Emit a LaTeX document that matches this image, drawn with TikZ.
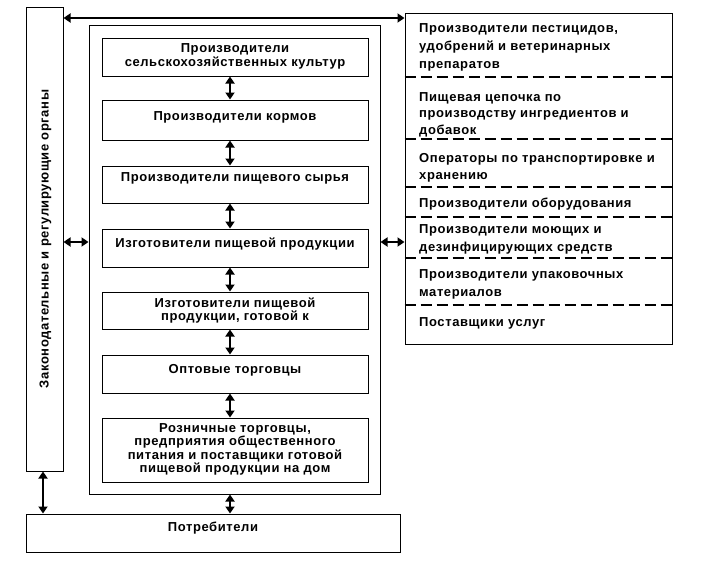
\documentclass[tikz,border=0pt]{standalone}
\usepackage{fontspec}
\setmainfont[LetterSpace=4.5]{Liberation Sans}
\usetikzlibrary{arrows.meta,fit,calc}
\begin{document}
\begin{tikzpicture}[x=1pt,y=-1pt,
  frame/.style={draw, line width=1pt, inner sep=0pt},
  txt/.style={font=\fontsize{13}{13.5}\selectfont\bfseries, align=center, inner sep=0pt},
  rtxt/.style={font=\fontsize{13}{18}\selectfont\bfseries, align=left, anchor=north west, inner sep=0pt},
  dbl/.style={line width=2.3pt, {Triangle[length=7pt,width=9pt]}-{Triangle[length=7pt,width=9pt]}},
  sepline/.style={line width=1.8pt, dash pattern=on 11pt off 5pt}]
\fill[white] (0,0) rectangle (703,562);
\useasboundingbox (0,0) rectangle (703,562);
% main frames
\node[frame, fit={(26,7)(63,471)}] (L) {};
\node[frame, fit={(89,25)(380,494)}] (O) {};
\node[frame, fit={(405,13)(672,344)}] (R) {};
\node[frame, fit={(26,514)(400,552)}] (P) {};
% inner boxes
\node[frame, fit={(102,38)(368,76)}] (b1) {};
\node[frame, fit={(102,100)(368,140)}] (b2) {};
\node[frame, fit={(102,166)(368,203)}] (b3) {};
\node[frame, fit={(102,229)(368,267)}] (b4) {};
\node[frame, fit={(102,292)(368,329)}] (b5) {};
\node[frame, fit={(102,355)(368,393)}] (b6) {};
\node[frame, fit={(102,418)(368,482)}] (b7) {};
% texts
\node[txt] (t1) at (235,56.5) {Производители\\сельскохозяйственных культур};
\node[txt] (t2) at (235,117) {Производители кормов};
\node[txt] (t3) at (235,178) {Производители пищевого сырья};
\node[txt] (t4) at (235,244) {Изготовители пищевой продукции};
\node[txt] (t5) at (235,310.5) {Изготовители пищевой\\продукции, готовой к};
\node[txt] (t6) at (235,370) {Оптовые торговцы};
\node[txt] (t7) at (235,449.5) {Розничные торговцы,\\предприятия общественного\\питания и поставщики готовой\\пищевой продукции на дом};
\node[txt] (tp) at (213,528) {Потребители};
\node[txt, rotate=90] (tl) at ([xshift=1pt]L.center) {Законодательные и регулирующие органы};
% right column
\node[rtxt] (r1) at (419,23) {Производители пестицидов,\\удобрений и ветеринарных\\препаратов};
\node[rtxt, font=\fontsize{13}{16.5}\selectfont\bfseries] (r2) at (419,92) {Пищевая цепочка по\\производству ингредиентов и\\добавок};
\node[rtxt, font=\fontsize{13}{17}\selectfont\bfseries] (r3) at (419,153) {Операторы по транспортировке и\\хранению};
\node[rtxt] (r4) at (419,198) {Производители оборудования};
\node[rtxt] (r5) at (419,224) {Производители моющих и\\дезинфицирующих средств};
\node[rtxt] (r6) at (419,269) {Производители упаковочных\\материалов};
\node[rtxt] (r7) at (419,317) {Поставщики услуг};
\foreach \yy in {77,139,187,217,258,305}
  \draw[sepline] (R.west |- 0,\yy) -- (R.east |- 0,\yy);
% arrows
\coordinate (ty) at (0,18);
\coordinate (my) at (0,242);
\coordinate (ax) at (230,0);
\coordinate (lx) at (43,0);
\draw[dbl, line width=2.6pt] (L.east |- ty) -- (R.west |- ty);
\draw[dbl] (L.east |- my) -- (O.west |- my);
\draw[dbl] (O.east |- my) -- (R.west |- my);
\draw[dbl] (b1.south -| ax) -- (b2.north -| ax);
\draw[dbl] (b2.south -| ax) -- (b3.north -| ax);
\draw[dbl] (b3.south -| ax) -- (b4.north -| ax);
\draw[dbl] (b4.south -| ax) -- (b5.north -| ax);
\draw[dbl] (b5.south -| ax) -- (b6.north -| ax);
\draw[dbl] (b6.south -| ax) -- (b7.north -| ax);
\draw[dbl] (O.south -| ax) -- (P.north -| ax);
\draw[dbl] (L.south -| lx) -- (P.north -| lx);
\end{tikzpicture}
\end{document}
